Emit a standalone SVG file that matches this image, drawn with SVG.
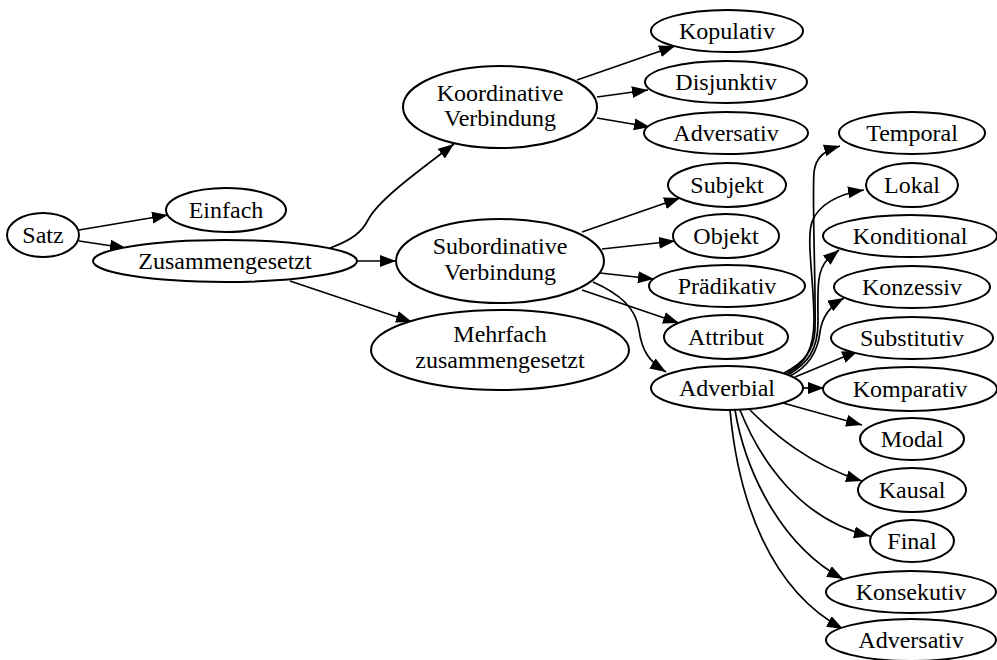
<svg xmlns="http://www.w3.org/2000/svg" width="997" height="660" viewBox="0 0 997 660">
<style>
.n ellipse{fill:#fff;stroke:#000;stroke-width:2}
.n text{font-family:"Liberation Serif","Times New Roman",serif;font-size:24px;text-anchor:middle;fill:#000}
.e path{fill:none;stroke:#000;stroke-width:1.7;marker-end:url(#ah)}
</style>
<defs>
<marker id="ah" markerUnits="userSpaceOnUse" markerWidth="17" markerHeight="13" refX="16" refY="6" orient="auto">
<path d="M0,0 L16,6 L0,12 z" fill="#000"/>
</marker>
</defs>
<rect width="997" height="660" fill="#fff"/>
<g id="edges" class="e">
<path d="M79,230 L168,215"/>
<path d="M79,241 L126,248"/>
<path d="M330,248 C352,240 362,232 368,220 C378,200 420,170 454,144"/>
<path d="M357,261 L396,261"/>
<path d="M290,281 L412,322"/>
<path d="M577,80 L675,46"/>
<path d="M597,97 L648,90"/>
<path d="M597,118 L650,127"/>
<path d="M582,232 L680,198"/>
<path d="M602,249 L675,241"/>
<path d="M600,273 L654,279"/>
<path d="M582,290 L679,323"/>
<path d="M593,282 C620,294 636,308 639,330 C642,352 650,362 666,372"/>
<path d="M784,373 C802,364 814,352 815,330 C816,290 812,200 814,172 C816,156 826,150 840,146"/>
<path d="M786,374 C806,364 814,348 814,320 C814,280 806,240 812,222 C818,205 838,194 864,190"/>
<path d="M788,375 C808,363 818,350 818,322 C818,292 816,272 827,260 L839,250"/>
<path d="M790,376 C810,366 818,350 820,332 C822,316 830,306 844,298"/>
<path d="M795,377 L858,351"/>
<path d="M803,388 L824,388"/>
<path d="M783,403 L862,425"/>
<path d="M750,410 C775,435 810,465 862,481"/>
<path d="M740,410 C760,460 800,520 870,536"/>
<path d="M735,410 C745,470 780,545 843,579"/>
<path d="M730,410 C738,500 770,590 843,629"/>
</g>
<g id="satz" class="n"><ellipse cx="43" cy="235" rx="36" ry="22"/><text x="43" y="243">Satz</text></g>
<g id="einfach" class="n"><ellipse cx="226" cy="210" rx="60" ry="22"/><text x="226" y="218">Einfach</text></g>
<g id="zusammengesetzt" class="n"><ellipse cx="225" cy="261" rx="132" ry="21"/><text x="225" y="269">Zusammengesetzt</text></g>
<g id="koordinative" class="n"><ellipse cx="500" cy="107" rx="97" ry="41"/><text x="500" y="101">Koordinative</text><text x="500" y="126">Verbindung</text></g>
<g id="subordinative" class="n"><ellipse cx="500" cy="261" rx="104" ry="42"/><text x="500" y="254">Subordinative</text><text x="500" y="280">Verbindung</text></g>
<g id="mehrfach" class="n"><ellipse cx="500" cy="350" rx="129" ry="40"/><text x="500" y="342">Mehrfach</text><text x="500" y="368">zusammengesetzt</text></g>
<g id="kopulativ" class="n"><ellipse cx="727" cy="31" rx="76" ry="21"/><text x="727" y="39">Kopulativ</text></g>
<g id="disjunktiv" class="n"><ellipse cx="726" cy="82" rx="81" ry="21"/><text x="726" y="90">Disjunktiv</text></g>
<g id="adversativ1" class="n"><ellipse cx="726" cy="133" rx="82" ry="21"/><text x="726" y="141">Adversativ</text></g>
<g id="subjekt" class="n"><ellipse cx="727" cy="185" rx="59" ry="22"/><text x="727" y="193">Subjekt</text></g>
<g id="objekt" class="n"><ellipse cx="726" cy="236" rx="53" ry="22"/><text x="726" y="244">Objekt</text></g>
<g id="praedikativ" class="n"><ellipse cx="727" cy="286" rx="78" ry="21"/><text x="727" y="294">Prädikativ</text></g>
<g id="attribut" class="n"><ellipse cx="726" cy="337" rx="62" ry="22"/><text x="726" y="345">Attribut</text></g>
<g id="adverbial" class="n"><ellipse cx="727" cy="388" rx="76" ry="22"/><text x="727" y="396">Adverbial</text></g>
<g id="temporal" class="n"><ellipse cx="912" cy="133" rx="73" ry="21"/><text x="912" y="141">Temporal</text></g>
<g id="lokal" class="n"><ellipse cx="912" cy="185" rx="46" ry="22"/><text x="912" y="193">Lokal</text></g>
<g id="konditional" class="n"><ellipse cx="910" cy="236" rx="87" ry="21"/><text x="910" y="244">Konditional</text></g>
<g id="konzessiv" class="n"><ellipse cx="912" cy="287" rx="78" ry="21"/><text x="912" y="295">Konzessiv</text></g>
<g id="substitutiv" class="n"><ellipse cx="912" cy="338" rx="81" ry="21"/><text x="912" y="346">Substitutiv</text></g>
<g id="komparativ" class="n"><ellipse cx="910" cy="389" rx="87" ry="22"/><text x="910" y="397">Komparativ</text></g>
<g id="modal" class="n"><ellipse cx="912" cy="439" rx="52" ry="21"/><text x="912" y="447">Modal</text></g>
<g id="kausal" class="n"><ellipse cx="912" cy="490" rx="54" ry="22"/><text x="912" y="498">Kausal</text></g>
<g id="final" class="n"><ellipse cx="912" cy="541" rx="42" ry="21"/><text x="912" y="549">Final</text></g>
<g id="konsekutiv" class="n"><ellipse cx="911" cy="592" rx="85" ry="21"/><text x="911" y="600">Konsekutiv</text></g>
<g id="adversativ2" class="n"><ellipse cx="911" cy="640" rx="85" ry="21"/><text x="911" y="648">Adversativ</text></g>
</svg>
